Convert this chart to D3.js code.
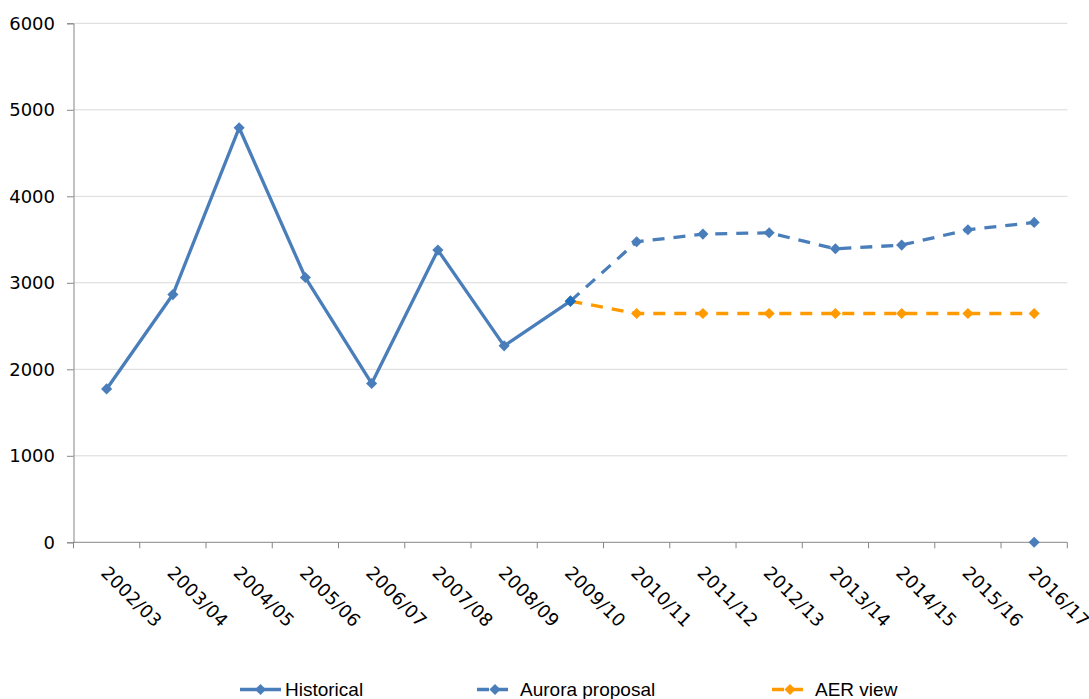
<!DOCTYPE html>
<html>
<head>
<meta charset="utf-8">
<script src="https://cdn.jsdelivr.net/npm/d3@7"></script>
<style>
  body { margin: 0; background: #fff; }
  svg { display: block; }
</style>
</head>
<body>
<svg id="chart" width="1089" height="699"></svg>
<script>
// Financial years on the category axis
const categories = ["2002/03", "2003/04", "2004/05", "2005/06", "2006/07", "2007/08", "2008/09",
  "2009/10", "2010/11", "2011/12", "2012/13", "2013/14", "2014/15", "2015/16", "2016/17"];

// Series values (null = no value for that year)
const historical = [1773, 2864, 4792, 3061, 1836, 3378, 2271, 2788,
  null, null, null, null, null, null, 0];
const auroraProposal = [null, null, null, null, null, null, null, 2788,
  3474, 3563, 3578, 3393, 3436, 3613, 3698];
const aerView = [null, null, null, null, null, null, null, 2788,
  2645, 2645, 2645, 2645, 2645, 2645, 2645];

const yTicks = [0, 1000, 2000, 3000, 4000, 5000, 6000];
const legendLabels = ["Historical", "Aurora proposal", "AER view"];

const BLUE = "#4a7ebb";
const ORANGE = "#ff9a00";
const LINK_BLUE = "#1f6fbf"; // last historical year, where the forecasts begin
const linkYear = "2009/10";

const svg = d3.select("#chart");
const plotLeft = 73.5, plotRight = 1067.3, plotTop = 23.3, plotBottom = 542.3;

const x = d3.scaleBand().domain(categories).range([plotLeft, plotRight]);
const cx = c => x(c) + x.bandwidth() / 2;
const y = d3.scaleLinear().domain([0, 6000]).range([plotBottom, plotTop]);

const axisFont = "'DejaVu Sans', sans-serif";

// horizontal gridlines
svg.append("g")
  .selectAll("line")
  .data(yTicks.filter(t => t > 0))
  .join("line")
  .attr("x1", plotLeft).attr("x2", plotRight)
  .attr("y1", d => y(d)).attr("y2", d => y(d))
  .attr("stroke", "#d9d9d9").attr("stroke-width", 1);

// value axis
const yAxis = svg.append("g")
  .attr("transform", `translate(${plotLeft},0)`)
  .call(d3.axisLeft(y).tickValues(yTicks).tickSize(6.5).tickPadding(12)
    .tickFormat(d3.format("d")));
yAxis.select(".domain").attr("stroke", "#868686");
yAxis.selectAll(".tick line").attr("stroke", "#868686");
yAxis.selectAll(".tick text")
  .attr("font-family", axisFont).attr("font-size", 18).attr("fill", "#000");

// category axis: line, ticks between categories, rotated labels
const xAxis = svg.append("g").attr("transform", `translate(0,${plotBottom})`);
xAxis.append("line")
  .attr("x1", plotLeft).attr("x2", plotRight).attr("y1", 0).attr("y2", 0)
  .attr("stroke", "#868686");
const boundaries = categories.map(c => x(c)).concat([x.range()[1]]);
xAxis.selectAll("line.tick")
  .data(boundaries)
  .join("line")
  .attr("class", "tick")
  .attr("x1", d => d).attr("x2", d => d)
  .attr("y1", 0).attr("y2", 6)
  .attr("stroke", "#868686");
xAxis.selectAll("text")
  .data(categories)
  .join("text")
  .attr("transform", d => `translate(${cx(d) + 3},${22}) rotate(45)`)
  .attr("dy", "0.76em")
  .attr("font-family", axisFont).attr("font-size", 18).attr("fill", "#000")
  .attr("letter-spacing", 0.3)
  .text(d => d);

// series
const diamond = d3.symbol().type(d3.symbolSquare).size(62);

function drawSeries(values, color, dash) {
  const pts = categories.map((c, i) => ({ c, v: values[i] }));
  const line = d3.line()
    .defined(d => d.v !== null)
    .x(d => cx(d.c)).y(d => y(d.v));
  const g = svg.append("g");
  g.append("path")
    .datum(pts)
    .attr("d", line)
    .attr("fill", "none")
    .attr("stroke", color)
    .attr("stroke-width", 3.3)
    .attr("stroke-linejoin", "round")
    .attr("stroke-dasharray", dash || null);
  g.selectAll("path.m")
    .data(pts.filter(d => d.v !== null))
    .join("path")
    .attr("class", "m")
    .attr("d", diamond)
    .attr("transform", d => `translate(${cx(d.c)},${y(d.v)}) rotate(45)`)
    .attr("fill", d => (color === BLUE && !dash && d.c === linkYear) ? LINK_BLUE : color);
}

drawSeries(aerView, ORANGE, "12,9");
drawSeries(auroraProposal, BLUE, "12,9");
drawSeries(historical, BLUE, null);

// legend
const legendItems = [
  { label: legendLabels[0], color: BLUE, dash: null, x0: 240, x1: 281, tx: 285 },
  { label: legendLabels[1], color: BLUE, dash: "12,7", x0: 477, x1: 513, tx: 520 },
  { label: legendLabels[2], color: ORANGE, dash: "12,7", x0: 772, x1: 808, tx: 815 }
];
const legendY = 689.5;
const lg = svg.append("g");
legendItems.forEach(it => {
  lg.append("line")
    .attr("x1", it.x0).attr("x2", it.x1)
    .attr("y1", legendY).attr("y2", legendY)
    .attr("stroke", it.color).attr("stroke-width", 3.3)
    .attr("stroke-dasharray", it.dash);
  lg.append("path")
    .attr("d", diamond)
    .attr("transform", `translate(${(it.x0 + it.x1) / 2},${legendY}) rotate(45)`)
    .attr("fill", it.color);
  lg.append("text")
    .attr("x", it.tx).attr("y", legendY)
    .attr("dy", "0.36em")
    .attr("font-family", "'Liberation Sans', Arial, sans-serif")
    .attr("font-size", 19)
    .attr("fill", "#000")
    .text(it.label);
});
</script>
</body>
</html>
